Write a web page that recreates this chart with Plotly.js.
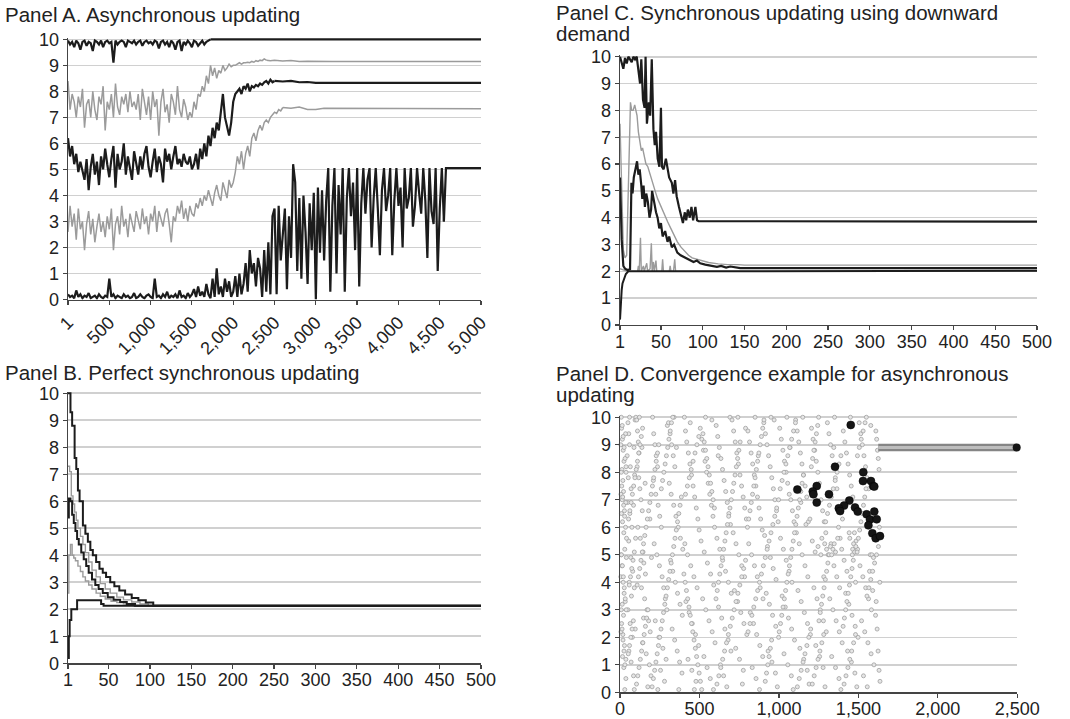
<!DOCTYPE html>
<html>
<head>
<meta charset="utf-8">
<script src="https://cdn.plot.ly/plotly-3.0.1.min.js"></script>
<style>html,body{margin:0;padding:0;background:#fff;}#chart{width:1070px;height:719px;}</style>
</head>
<body>
<div id="chart"></div>
<script>
// ---------------- DATA ----------------
const yTicks = [0,1,2,3,4,5,6,7,8,9,10];

// Panel A: asynchronous updating (sampled every 25 steps from step 1)
const aStart = 1;
const aStep = 25;
const aTicks = [1,500,1000,1500,2000,2500,3000,3500,4000,4500,5000];
const aTickText = ["1","500","1,000","1,500","2,000","2,500","3,000","3,500","4,000","4,500","5,000"];

const a1Y = [9.95,9.8,9.9,9.7,9.95,9.85,9.6,9.9,9.95,9.75,
  9.9,9.85,9.55,9.95,9.9,9.8,9.95,9.7,9.9,9.95,
  9.85,9.9,9.1,9.95,9.8,9.9,9.95,9.9,9.7,9.95,
  9.9,9.85,9.95,9.8,9.9,9.95,9.75,9.9,9.95,9.85,
  9.9,9.8,9.95,9.9,9.65,9.9,9.95,9.8,9.9,9.7,
  9.95,9.85,9.6,9.9,9.95,9.55,9.9,9.8,9.95,9.85,
  9.7,9.95,9.9,9.75,9.85,9.95,9.8,9.9,9.95,10];
const a1TailX = [1726,5000];
const a1TailY = [10,10];

const a2Y = [8.4,
  7.3,7.9,7.6,7.0,7.8,7.4,8.1,6.6,7.5,7.7,7.0,8.0,7.3,6.9,7.8,7.5,8.2,6.5,7.6,7.3,
  7.9,7.0,8.3,7.4,7.1,7.8,7.5,7.9,7.2,8.0,7.4,7.6,7.3,7.9,6.9,8.1,7.5,7.1,7.8,6.9,
  8.0,7.4,7.7,6.3,7.6,8.1,7.2,7.5,6.8,7.9,7.6,7.1,8.2,7.3,7.0,7.7,7.4,6.9,7.2,7.0,
  7.6,7.3,7.9,7.8,8.2,8.0,8.6,8.3,9.0,8.6,8.9,8.5,8.8,8.7,9.0,8.8,8.9,9.05,8.95,9.0,
  9.0,9.05,9.1,9.05,9.1,9.1,9.12,9.1,9.15,9.12,9.18,9.15,9.2,9.18,9.25,9.2];
const a2TailX = [2401,2450,2500,2600,2700,2800,2900,3000,3200,3500,5000];
const a2TailY = [9.2,9.18,9.2,9.17,9.19,9.15,9.16,9.15,9.15,9.15,9.15];

const a3Y = [6.2,
  5.5,5.9,5.2,5.6,4.9,5.3,5.0,4.6,5.4,4.2,5.1,5.6,4.8,5.3,4.4,5.5,5.0,5.8,5.2,4.7,
  5.4,5.9,4.3,5.6,5.0,5.3,6.0,4.8,5.5,5.1,4.6,5.7,5.2,4.8,5.5,5.0,5.6,5.9,5.1,4.7,
  5.3,5.8,4.9,5.5,5.2,4.5,5.8,5.3,5.6,5.0,5.5,5.9,5.2,5.4,5.1,5.6,5.3,5.2,5.5,5.0,
  5.2,5.6,5.0,5.8,5.4,6.0,5.5,6.3,5.9,6.6,6.2,6.8,6.5,7.3,7.9,7.0,6.6,6.3,6.8,7.6,
  7.9,8.0,8.1,7.9,8.2,8.1,8.3,8.0,8.2,8.15,8.25,8.2,8.3,8.25,8.35,8.4,8.3,8.45,8.35,8.4];
const a3TailX = [2501,2600,2700,2800,2900,3000,5000];
const a3TailY = [8.4,8.38,8.4,8.35,8.36,8.33,8.33];

const a4Y = [2.6,
  3.6,2.8,3.3,2.3,3.5,2.7,3.0,1.9,2.9,3.4,2.5,3.1,2.2,2.8,3.3,2.6,3.0,2.4,3.2,2.7,
  3.5,1.9,2.9,3.2,2.5,3.6,2.8,3.1,2.4,3.3,2.9,2.6,3.4,3.0,2.7,3.5,2.9,3.2,2.5,3.3,
  3.0,3.6,2.6,3.4,3.1,2.8,3.3,3.5,2.9,2.2,3.2,3.0,3.6,3.3,3.8,3.1,3.5,3.0,3.6,3.3,
  3.2,3.7,3.5,3.9,3.6,4.0,3.8,4.2,3.9,3.6,4.1,4.4,4.0,3.8,4.5,4.2,3.9,4.6,4.3,4.5,
  4.9,5.5,5.2,5.7,5.0,5.6,5.9,5.5,6.2,6.4,6.1,6.5,6.7,6.5,6.8,6.9,6.8,7.0,7.1,7.2,7.15,7.3,7.25,7.38];
const a4TailX = [2601,2700,2800,2900,3000,3100,5000];
const a4TailY = [7.38,7.35,7.4,7.3,7.3,7.35,7.33];

const a5Y = [
  0.2,0.1,0.15,0.05,0.35,0.1,0.2,0.05,0.15,0.1,0.25,0.05,0.1,0.15,0.05,0.2,0.1,0.05,0.15,0.1,
  0.8,0.1,0.2,0.05,0.15,0.1,0.05,0.2,0.1,0.15,0.05,0.1,0.25,0.05,0.1,0.2,0.1,0.05,0.15,0.2,
  0.1,0.05,0.8,0.1,0.15,0.05,0.2,0.1,0.3,0.05,0.15,0.1,0.2,0.05,0.35,0.1,0.15,0.05,0.25,0.1,
  0.2,0.4,0.1,0.5,0.15,0.3,0.1,0.6,0.2,0.05,0.8,0.1,1.2,0.2,0.5,0.1,0.8,0.3,0.7,0.1,
  0.3,0.9,0.1,1.0,0.2,0.6,1.4,0.3,1.9,1.0,1.4,0.5,1.6,1.2,0.1,1.9,0.3,2.2,0.2,3.2,
  3.5,0.2,3.6,1.5,2.5,3.5,0.4,3.2,1.6,5.2,4.5,1.1,3.9,0.8,4.0,2.6,0.6,3.7,1.9,4.1,
  0.0,4.3,1.8,4.2,1.5,3.8,5.05,0.3,3.6,5.05,1.0,4.4,2.5,5.05,0.3,3.9,5.05,3.2,4.5,1.9,
  5.05,0.5,3.7,5.05,3.3,4.6,5.05,2.0,3.9,5.05,3.5,1.7,4.2,5.05,3.4,4.0,5.05,1.7,3.8,5.05,
  3.6,4.3,2.0,5.05,3.5,3.9,5.05,2.8,3.6,5.05,4.1,3.3,5.05,3.8,1.6,5.05,3.4,2.9,5.05,1.1,
  3.5,5.05,3.0];
const a5TailX = [4551,4576,5000];
const a5TailY = [3.0,5.05,5.05];

// Panel B: perfect synchronous updating (step functions)
const bcTicks = [1,50,100,150,200,250,300,350,400,450,500];
const bcTickText = ["1","50","100","150","200","250","300","350","400","450","500"];
const b1X = [1,4,6,9,11,13,15,19,22,25,28,31,35,39,43,47,52,57,63,70,78,86,95,104,500];
const b1Y = [10,9.3,8.8,7.6,7.2,6.4,6.0,5.1,4.8,4.5,4.2,4.0,3.75,3.5,3.35,3.2,3.0,2.85,2.7,2.55,2.42,2.33,2.25,2.13,2.13];
const b2X = [1,3,5,7,9,11,13,16,19,22,26,30,35,40,46,52,60,68,78,88,98,500];
const b2Y = [7.3,7.1,6.2,5.9,5.6,5.3,5.0,4.7,4.4,4.1,3.75,3.45,3.2,2.95,2.75,2.6,2.45,2.35,2.27,2.2,2.13,2.13];
const b3X = [1,2,4,6,8,10,12,14,17,20,23,26,30,34,38,43,49,56,64,72,82,500];
const b3Y = [5.4,6.1,6.0,5.5,5.2,4.9,4.6,4.4,4.1,3.85,3.6,3.35,3.1,2.9,2.75,2.6,2.45,2.35,2.27,2.2,2.13,2.13];
const b4X = [1,2,4,6,8,10,13,16,19,22,26,30,35,40,46,53,60,68,80,500];
const b4Y = [2.6,4.0,4.4,4.0,3.9,3.8,3.6,3.4,3.2,3.05,2.9,2.75,2.6,2.48,2.38,2.3,2.25,2.2,2.13,2.13];
const b5X = [1,2,3,5,12,41,44,48,500];
const b5Y = [0.2,1.0,1.6,2.0,2.33,2.2,2.13,2.13,2.13];

// Panel C: synchronous updating using downward demand
const c1X = [1,3,5,7,9,11,13,15,17,19,21,23,25,26.5,28.5,30.4,31.6,33.2,35.5,37.1,39,41,42.6,44.1,46.1,48.1,50,51.2,53.2,55.9,57.9,59.8,63,64.9,66.9,68.8,71.6,73.5,76.3,78.6,80.2,82.2,84.5,86.5,88.5,91.2,93.2,95.1,500];
const c1Y = [10,9.8,9.55,9.95,9.75,10,9.9,9.8,10,9.9,10,9.5,9.0,9.9,8.4,8.1,10,7.5,8.3,7.8,9.9,7.3,6.7,7.2,6.2,5.9,8.1,5.9,5.8,6.2,5.8,5.5,5.3,4.9,5.4,4.8,4.4,4.1,3.8,4.2,3.9,4.3,4.0,4.4,3.9,4.4,3.9,3.87,3.85];
const c2X = [1,3,5,7,9,10.5,12,13.5,15,16.7,18.6,20,21.4,23,24.5,26.5,28,30.4,32,34.3,37,40.2,43,46.1,50,54,58,61.8,66,69.6,74,79.4,83,87.3,93,99,107,118.6,130,142,150,500];
const c2Y = [7.5,4.5,2.8,2.5,2.6,4.5,7.0,8.3,8.0,8.0,8.2,8.0,7.8,7.2,6.9,6.5,6.6,6.2,6.0,5.9,5.6,5.3,5.0,4.7,4.4,4.1,3.85,3.6,3.35,3.1,2.9,2.7,2.6,2.5,2.45,2.4,2.33,2.28,2.25,2.25,2.23,2.23];
const c3X = [1,3,5,7,10,13,14.7,16,17.5,19.8,21.4,23,24.6,26.5,27.7,29.2,30.8,32.4,34.3,36.3,38.2,39.4,41.4,44.1,46,48,50,52,55,57.9,59.8,63,65.7,69.6,73.5,79.4,83.3,89,93,97,103,111,117,122,128,133,140,145,500];
const c3Y = [5.5,3.2,2.2,2.1,2.05,2.08,5.3,4.9,5.5,5.8,6.1,5.6,5.8,5.2,4.7,5.2,4.4,4.9,4.6,4.0,4.3,5.0,4.6,4.2,4.0,3.6,3.8,3.3,3.5,3.1,3.3,2.9,3.0,2.7,2.6,2.5,2.45,2.35,2.4,2.3,2.25,2.2,2.17,2.2,2.14,2.18,2.13,2.12,2.12];
const c4X = [1,10,22,23,24,25.5,26.5,29,30,33,34,37,38.5,39.5,41,42,44,45,51,52,53,60,61,62,65,66.5,67.5,500];
const c4Y = [2.1,2.0,2.0,2.2,2.0,3.25,2.0,2.2,2.0,2.3,2.0,2.1,3.05,2.0,2.35,2.0,2.4,2.0,2.0,2.45,2.0,2.0,2.2,2.0,2.0,2.45,2.0,2.0];
const c5X = [1,2,3,4,6,8,11,500];
const c5Y = [0.2,0.9,1.3,1.55,1.75,1.9,2.0,2.02];

// Panel D: convergence example for asynchronous updating
const dTicks = [0,500,1000,1500,2000,2500];
const dTickText = ["0","500","1,000","1,500","2,000","2,500"];
const dotX = [
  10,15,20,25,12,18,22,14,28,16,24,30,12,20,26,14,22,10,18,28,16,24,30,
  50,55,60,45,65,52,70,48,62,75,55,68,80,58,72,50,64,78,56,70,85,90,95,88,92,85,98,90,96,60,100,
  5,8,6,9,7,5,8,6,35,38,36,40,33,37,
  105,110,115,120,108,118,125,132,140,112,128,145,150,160,135,155,170,180,190,142,165,185,195,175,122,138,158,188,198,148,
  205,212,220,228,236,210,225,240,250,260,215,232,248,265,275,285,295,222,245,270,290,255,280,298,238,
  305,315,325,335,345,310,322,338,352,366,380,395,318,332,348,362,378,392,328,344,360,375,390,340,370,355,
  405,412,420,430,440,450,460,470,480,490,498,408,425,445,465,485,415,435,455,475,495,428,452,478,442,468,
  505,515,525,535,545,555,565,575,585,595,510,530,550,570,590,520,540,560,580,598,528,548,568,588,538,578,
  605,615,625,635,645,655,665,675,685,695,610,628,646,664,682,700,620,640,660,680,698,632,652,672,692,618,
  705,715,725,735,745,755,765,775,785,795,712,730,748,766,784,720,740,760,780,798,728,752,776,742,770,790,
  805,815,825,835,845,855,865,875,885,895,810,828,846,864,882,900,820,840,860,880,898,832,856,878,850,870,
  905,915,925,935,945,955,965,975,985,995,910,928,946,964,982,920,940,960,980,998,932,956,978,950,990,970,
  1005,1015,1025,1035,1045,1055,1065,1075,1085,1095,1010,1028,1046,1064,1082,1020,1040,1060,1080,1098,1032,1056,1078,1050,1090,1070,
  1105,1115,1125,1135,1145,1155,1165,1175,1185,1195,1110,1128,1146,1164,1182,1120,1140,1160,1180,1198,1132,1156,1178,1150,1190,1170,1138,
  1205,1215,1225,1235,1245,1255,1265,1275,1285,1295,1210,1228,1246,1264,1282,1220,1240,1260,1280,1298,1232,1256,1278,1250,1290,1270,1300,1288,
  1305,1315,1325,1335,1345,1355,1365,1375,1385,1395,1310,1328,1346,1364,1382,1320,1340,1360,1380,1398,1332,1356,1378,1350,1390,1370,1400,
  1405,1415,1425,1435,1445,1455,1465,1475,1485,1495,1410,1428,1446,1464,1482,1420,1440,1460,1480,1498,1432,1456,1478,1450,1490,1470,1442,1462,
  1505,1515,1525,1535,1545,1555,1565,1575,1585,1595,1510,1528,1546,1564,1582,1520,1540,1560,1580,1598,1532,1556,1578,1550,1590,1570,
  1610,1615,1620,1625,1630,1635,1612,1618,1624,1630,1636,1608];
const dotY = [
  9.6,9.2,8.8,8.4,8.1,7.7,7.3,7.0,6.6,6.2,5.8,5.2,4.6,4.0,3.6,3.2,2.8,2.5,2.1,1.7,1.3,0.9,0.1,
  9.8,9.4,9.0,8.6,8.2,7.8,7.4,6.9,6.5,6.0,5.5,4.9,4.4,4.0,3.5,3.0,2.5,2.0,1.5,1.1,0.6,0.1,9.9,8.9,7.9,6.8,5.6,3.8,2.3,10,10,
  9.0,8.0,7.2,6.5,5.0,4.2,3.0,2.2,9.4,8.2,6.9,4.9,3.3,1.2,
  9.9,9.5,9.1,8.7,8.2,7.8,7.4,7.0,6.6,6.0,5.6,5.1,4.7,4.3,3.8,3.4,3.0,2.6,2.2,1.8,1.4,1.0,0.6,0.2,10,8.9,7.6,6.3,4.9,2.7,
  10,9.4,9.0,8.6,8.2,7.7,7.2,6.8,6.4,6.0,5.4,5.0,4.6,4.2,3.8,3.4,3.0,2.6,2.0,1.6,1.2,0.8,0.4,9.7,0.1,
  9.8,9.4,9.0,8.6,8.2,7.6,7.2,6.8,6.4,6.0,5.6,5.2,4.8,4.4,4.0,3.6,3.2,2.8,2.3,1.9,1.5,1.1,0.7,10,0.1,8.9,
  10,9.5,9.1,8.7,8.3,7.9,7.5,7.1,6.7,6.3,5.9,5.4,5.0,4.6,4.2,3.8,3.3,2.9,2.5,2.1,1.7,1.2,0.8,0.4,9.8,0.1,
  9.6,9.2,8.8,8.4,8.0,7.6,7.2,6.8,6.4,6.0,5.5,5.1,4.7,4.3,3.9,3.4,3.0,2.6,2.2,1.8,1.3,0.9,0.5,0.1,10,9.9,
  9.7,9.3,8.9,8.5,8.1,7.7,7.3,6.9,6.5,6.1,5.6,5.2,4.8,4.4,4.0,3.6,3.1,2.7,2.3,1.9,1.5,1.0,0.6,0.2,10,8.6,
  9.9,9.5,9.1,8.7,8.3,7.9,7.5,7.1,6.7,6.3,5.8,5.4,5.0,4.6,4.2,3.7,3.3,2.9,2.5,2.1,1.6,1.2,0.8,10,0.3,9.6,
  9.5,9.1,8.7,8.3,7.9,7.5,7.1,6.7,6.3,5.9,5.4,5.0,4.6,4.2,3.8,3.4,2.9,2.5,2.1,1.7,1.3,0.9,0.5,0.1,10,8.6,
  9.8,9.4,9.0,8.6,8.2,7.8,7.4,7.0,6.6,6.2,5.7,5.3,4.9,4.5,4.1,3.6,3.2,2.8,2.4,2.0,1.5,1.1,0.7,10,0.2,9.9,
  9.6,9.2,8.8,8.4,8.0,7.6,7.2,7.0,6.6,6.2,5.6,5.2,4.8,4.4,4.0,3.5,3.1,2.7,2.3,1.9,1.4,1.0,0.6,10,0.1,8.9,
  9.9,9.5,9.1,8.7,8.3,7.9,7.5,7.1,6.2,6.3,5.8,5.4,5.0,4.6,4.2,3.7,3.3,2.9,2.5,2.1,1.6,1.2,0.8,10,0.3,6.1,6.9,
  9.6,9.2,8.8,8.4,8.0,7.6,7.0,6.6,6.2,5.8,5.5,5.1,5.3,5.0,4.2,3.8,3.4,3.0,2.6,2.2,1.7,1.3,0.9,10,0.2,5.6,5.2,5.4,
  9.8,9.4,9.0,8.6,8.9,7.8,7.4,6.0,5.6,5.2,5.0,5.4,4.6,4.2,3.8,3.4,3.0,2.6,2.2,1.8,1.3,0.9,0.5,10,0.1,5.6,6.3,
  9.5,9.1,8.7,8.3,7.9,7.5,7.1,5.8,5.5,5.2,4.8,4.4,5.6,5.2,4.0,3.6,3.2,2.8,2.4,2.0,1.5,1.1,0.7,10,0.2,5.4,5.8,5.0,
  9.8,9.4,9.0,8.6,8.2,7.8,7.4,5.0,5.0,4.9,4.6,4.2,3.8,3.4,3.0,2.6,2.2,1.8,1.4,1.0,0.6,0.2,9.7,10,3.7,4.4,
  9.5,9.2,8.8,8.5,8.1,4.0,3.3,2.3,1.5,0.8,0.4,2.8];
const dot2X = [
  8,14,20,26,32,38,11,17,23,29,35,41,9,15,21,27,33,39,13,19,25,31,37,
  52,60,68,76,84,58,66,74,82,90,54,62,70,78,86,94,102,110,118,126,134,142,
  104,112,120,128,136,144,152,160,168,176,108,116,124,132,140,148,156,164,172,180,188,196,204,212,220,228,236,244,
  202,210,218,226,234,242,250,258,266,274,282,290,298,306,314,322,330,338,346,354,362,370,378,386,
  260,268,276,284,292,300,308,316,324,332,
  402,410,418,426,434,442,450,458,466,474,482,490,498,506,514,522,530,538,546,554,
  562,570,578,586,594,412,424,436,448,460,472,484,496,
  604,612,620,628,636,644,652,660,668,676,684,692,700,708,716,724,732,740,748,756,
  610,622,634,646,658,670,682,694,706,718,730,742,754,766,778,790,
  802,810,818,826,834,842,850,858,866,874,882,890,898,906,914,922,930,938,946,954,
  806,818,830,842,854,866,878,890,902,914,926,938,950,962,974,986,998,
  1002,1010,1018,1026,1034,1042,1050,1058,1066,1074,1082,1090,1098,1106,1114,1122,1130,1138,1146,1154,
  1008,1020,1032,1044,1056,1068,1080,1092,1104,1116,1128,1140,1152,1164,1176,1188,1200,
  1204,1212,1220,1228,1236,1244,1252,1260,1268,1276,1284,1292,1300,1308,1316,1324,1332,1340,1348,1356,
  1210,1222,1234,1246,1258,1270,1282,1294,1306,1318,1330,1342,1354,1366,1378,1390,
  1404,1412,1420,1428,1436,1444,1452,1460,1468,1476,1484,1492,1500,1508,1516,1524,1532,1540,1548,1556,
  1410,1422,1434,1446,1458,1470,1482,1494,1506,1518,1530,1542,1554,1566,1578,1590,1602,1614,1626,1632];
const dot2Y = [
  10,9.7,9.3,8.9,8.5,8.0,7.5,7.1,6.8,6.4,6.0,5.6,5.0,4.6,4.2,3.8,3.4,3.0,2.3,1.9,1.5,1.0,0.5,
  1.4,1.7,2.0,2.3,2.6,3.9,4.2,4.5,4.8,5.1,6.3,6.6,6.9,7.2,7.5,7.8,8.1,8.4,8.7,9.0,9.3,9.6,
  0.3,0.6,0.9,1.2,1.5,1.8,2.1,2.4,2.7,3.0,3.9,4.2,4.5,4.8,5.1,5.4,5.7,6.0,6.3,6.6,6.9,7.2,7.5,7.8,8.1,8.4,8.7,9.0,
  0.2,0.5,0.8,1.1,1.4,1.7,2.0,2.3,2.6,2.9,3.2,3.5,3.8,4.1,4.4,4.7,5.0,5.3,5.6,5.9,6.2,6.5,6.8,7.1,
  7.4,7.7,8.0,8.3,8.6,8.9,9.2,9.5,9.8,10,
  4.3,4.0,3.7,3.4,3.1,2.8,2.5,2.2,1.9,1.6,1.3,1.0,0.7,0.4,0.1,9.4,9.1,8.8,8.5,8.2,
  7.9,7.6,7.3,7.0,6.7,7.2,7.5,7.8,8.1,8.4,8.7,9.0,9.3,
  3.4,3.7,4.0,4.3,4.6,4.9,5.2,5.5,5.8,6.1,6.4,6.7,7.0,7.3,7.6,7.9,8.2,8.5,8.8,9.1,
  0.3,0.6,0.9,1.2,1.5,1.8,2.1,2.4,2.7,3.0,3.3,3.6,3.9,4.2,4.5,4.8,
  6.0,6.3,6.6,6.9,7.2,7.5,7.8,8.1,8.4,8.7,9.0,9.3,9.6,9.9,0.4,0.7,1.0,1.3,1.6,1.9,
  2.2,2.5,2.8,3.1,3.4,3.7,4.0,4.3,4.6,4.9,5.2,5.5,5.8,6.1,6.4,6.7,7.0,
  2.2,2.5,2.8,3.1,3.4,3.7,4.0,4.3,4.6,4.9,5.2,5.5,5.8,6.1,6.4,6.7,7.0,7.3,7.6,7.9,
  7.4,7.7,8.0,8.3,8.6,8.9,9.2,9.5,9.8,0.2,0.5,0.8,1.1,1.4,1.7,2.0,2.3,
  8.2,8.5,8.8,9.1,9.4,9.7,2.6,2.9,3.2,3.5,3.8,4.1,4.4,4.7,5.0,5.3,5.0,5.2,5.4,5.1,
  0.3,0.6,0.9,1.2,1.5,1.8,2.1,6.2,6.5,6.8,7.1,7.4,7.7,8.0,8.3,8.6,
  2.4,2.7,3.0,3.3,3.6,3.9,4.2,4.5,4.8,5.1,5.3,5.1,5.6,5.9,6.2,6.5,6.8,7.1,7.4,7.7,
  0.3,0.6,0.9,1.2,1.5,1.8,2.1,8.6,8.9,9.2,9.5,9.8,3.5,3.8,4.1,4.4,4.7,5.0,5.3,6.0];
const bigX = [1452,1353,1531,1529,1579,1593,1600,1116,1238,1213,1217,1315,1238,1443,1410,1377,1385,1479,1496,1552,1600,1573,1615,1563,1588,1609,1636];
const bigY = [9.72,8.2,8.0,7.68,7.68,7.5,7.48,7.37,7.5,7.3,7.2,7.2,6.9,6.97,6.79,6.69,6.59,6.72,6.57,6.47,6.57,6.28,6.29,6.07,5.78,5.6,5.68];
const convX = [1625,2500];
const convY = [8.9,8.9];
const finalX = [2496];
const finalY = [8.9];

// ---------------- STYLE ----------------
const BLACK = '#1c1c1c';
const GRAY = '#9b9b9b';
const FONT = 'Liberation Sans, Arial, Helvetica, sans-serif';

function ln(ax, color, width, extra) {
  return Object.assign({type:'scatter', mode:'lines', xaxis:'x'+ax, yaxis:'y'+ax,
    line:{color:color, width:width}, hoverinfo:'skip', showlegend:false}, extra);
}
const smallDot = {size:4, color:'#e6e6e6', line:{color:'#a0a0a0', width:0.8}};

const traces = [
  // Panel A
  ln('', GRAY, 1.5, {x0:aStart, dx:aStep, y:a4Y}), ln('', GRAY, 1.5, {x:a4TailX, y:a4TailY}),
  ln('', GRAY, 1.5, {x0:aStart, dx:aStep, y:a2Y}), ln('', GRAY, 1.5, {x:a2TailX, y:a2TailY}),
  ln('', BLACK, 2.2, {x0:aStart, dx:aStep, y:a5Y}), ln('', BLACK, 2.2, {x:a5TailX, y:a5TailY}),
  ln('', BLACK, 2.2, {x0:aStart, dx:aStep, y:a3Y}), ln('', BLACK, 2.2, {x:a3TailX, y:a3TailY}),
  ln('', BLACK, 2.2, {x0:aStart, dx:aStep, y:a1Y}), ln('', BLACK, 2.2, {x:a1TailX, y:a1TailY}),
  // Panel C
  ln('2', GRAY, 1.4, {x:c4X, y:c4Y}),
  ln('2', BLACK, 2, {x:c5X, y:c5Y}),
  ln('2', GRAY, 1.4, {x:c2X, y:c2Y}),
  ln('2', BLACK, 2.2, {x:c3X, y:c3Y}),
  ln('2', BLACK, 2.2, {x:c1X, y:c1Y}),
  // Panel B
  ln('3', GRAY, 1.4, {x:b4X, y:b4Y, line:{color:GRAY, width:1.4, shape:'hv'}}),
  ln('3', GRAY, 1.4, {x:b2X, y:b2Y, line:{color:GRAY, width:1.4, shape:'hv'}}),
  ln('3', BLACK, 2, {x:b5X, y:b5Y, line:{color:BLACK, width:2, shape:'hv'}}),
  ln('3', BLACK, 2, {x:b3X, y:b3Y, line:{color:BLACK, width:2, shape:'hv'}}),
  ln('3', BLACK, 2, {x:b1X, y:b1Y, line:{color:BLACK, width:2, shape:'hv'}}),
  // Panel D
  {type:'scatter', mode:'markers', x:dotX, y:dotY, xaxis:'x4', yaxis:'y4', hoverinfo:'skip', showlegend:false, cliponaxis:false, marker:smallDot},
  {type:'scatter', mode:'markers', x:dot2X, y:dot2Y, xaxis:'x4', yaxis:'y4', hoverinfo:'skip', showlegend:false, cliponaxis:false, marker:smallDot},
  ln('4', '#858585', 7.5, {x:convX, y:convY}),
  ln('4', '#bdbdbd', 3, {x:convX, y:convY}),
  {type:'scatter', mode:'markers', x:bigX, y:bigY, xaxis:'x4', yaxis:'y4', hoverinfo:'skip', showlegend:false, cliponaxis:false,
    marker:{size:8, color:'#151515', line:{color:'#000', width:0.5}}},
  {type:'scatter', mode:'markers', x:finalX, y:finalY, xaxis:'x4', yaxis:'y4', hoverinfo:'skip', showlegend:false, cliponaxis:false,
    marker:{size:8, color:'#151515'}}
];

function yax(domain, anchor) {
  return {domain:domain, anchor:anchor, range:[0,10.05], tickmode:'array', tickvals:yTicks,
    ticktext:yTicks.map(String), ticks:'outside', ticklen:4, tickwidth:1.2, tickcolor:'#444',
    showline:true, linecolor:'#444', linewidth:1.4, showgrid:true, gridcolor:'#d0d0d0', gridwidth:1.6,
    zeroline:false, tickfont:{family:FONT, size:18, color:'#222'}, fixedrange:true, automargin:false};
}
function xax(domain, anchor, range, vals, text, angle, standoff) {
  return {domain:domain, anchor:anchor, range:range, tickmode:'array', tickvals:vals, ticktext:text,
    tickangle:angle, ticks:'outside', ticklen:4, tickwidth:1.2, tickcolor:'#444',
    ticklabelstandoff:standoff,
    showline:true, linecolor:'#444', linewidth:1.4, showgrid:false, zeroline:false,
    tickfont:{family:FONT, size:18, color:'#222'}, fixedrange:true, automargin:false};
}

const dxA = [0.06355, 0.44953];
const dxC = [0.57944, 0.96916];
const dxD = [0.57944, 0.95075];
const tFont = {family:FONT, size:20.5, color:'#222'};
function title(text, xpx, ypx) {
  return {text:text, xref:'paper', yref:'paper', x:xpx/1070, y:1-ypx/719, xanchor:'left', yanchor:'middle',
    showarrow:false, align:'left', font:tFont};
}

const layout = {
  width:1070, height:719, autosize:false,
  margin:{l:0, r:0, t:0, b:0},
  paper_bgcolor:'#fff', plot_bgcolor:'#fff',
  font:{family:FONT, color:'#222'},
  showlegend:false, hovermode:false,
  xaxis: xax(dxA, 'y', [1,5000], aTicks, aTickText, -45, 0),
  yaxis: yax([0.5834, 0.9471], 'x'),
  xaxis2: xax(dxC, 'y2', [1,500], bcTicks, bcTickText, 0, -4),
  yaxis2: yax([0.5480, 0.9230], 'x2'),
  xaxis3: xax(dxA, 'y3', [1,500], bcTicks, bcTickText, 0, -4),
  yaxis3: yax([0.0775, 0.4549], 'x3'),
  xaxis4: xax(dxD, 'y4', [0,2500], dTicks, dTickText, 0, -4),
  yaxis4: yax([0.0371, 0.4216], 'x4'),
  annotations: [
    title('Panel A. Asynchronous updating', 3, 15),
    title('Panel C. Synchronous updating using downward', 554, 12),
    title('demand', 554, 33),
    title('Panel B. Perfect synchronous updating', 3, 372),
    title('Panel D. Convergence example for asynchronous', 554, 373),
    title('updating', 554, 394)
  ]
};

Plotly.newPlot('chart', traces, layout, {displayModeBar:false, staticPlot:true});
</script>
</body>
</html>
